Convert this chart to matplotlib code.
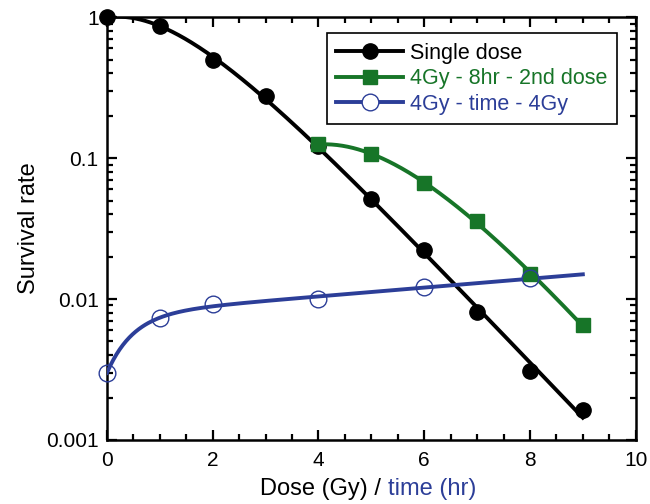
import numpy as np
import matplotlib
matplotlib.use("Agg")
import matplotlib.pyplot as plt
from matplotlib.ticker import FixedLocator, MultipleLocator, FixedFormatter

plt.rcParams['font.family'] = ['Liberation Sans', 'DejaVu Sans']

# data
single_x = [0, 1, 2, 3, 4, 5, 6, 7, 8, 9]
single_y = [1.0, 0.86, 0.50, 0.275, 0.122, 0.051, 0.0223, 0.0081, 0.0031, 0.00163]

split_x = [4, 5, 6, 7, 8, 9]
split_y = [0.125, 0.107, 0.0665, 0.0357, 0.015, 0.0065]

time_x = [0, 1, 2, 4, 6, 8]
time_y = [0.0030, 0.0073, 0.0092, 0.0100, 0.0122, 0.0140]
time_curve_end = 9

labels = ["Single dose", "4Gy - 8hr - 2nd dose", "4Gy - time - 4Gy"]
black = "black"
green = "#177528"
blue = "#2c3e98"


def smooth(x, y, x_end):
    # log-space fit: a + b*d + c*exp(-d/tau)
    x = np.asarray(x, float)
    L = np.log10(y)
    d = x - x[0]
    best = None
    for tau in np.linspace(0.15, 6, 400):
        A = np.column_stack([np.ones_like(d), d, np.exp(-d / tau)])
        coef = np.linalg.lstsq(A, L, rcond=None)[0]
        r = np.sum((A @ coef - L) ** 2)
        if best is None or r < best[0]:
            best = (r, tau, coef)
    _, tau, coef = best
    xs = np.linspace(x[0], x_end, 300)
    ds = xs - x[0]
    return xs, 10 ** (coef[0] + coef[1] * ds + coef[2] * np.exp(-ds / tau))


fig = plt.figure(figsize=(6.5, 5.04), dpi=100)
ax = fig.add_axes([0.1646, 0.127, 0.8134, 0.839])

xs, ys = smooth(single_x, single_y, single_x[-1])
ax.plot(xs, ys, color=black, lw=2.8, zorder=3)
ax.plot(single_x, single_y, 'o', color=black, ms=11, zorder=4, clip_on=False)

xs, ys = smooth(time_x, time_y, time_curve_end)
ax.plot(xs, ys, color=blue, lw=2.8, zorder=3)
ax.plot(time_x, time_y, 'o', mfc='none', mec=blue, mew=1.0, ms=12, zorder=6, clip_on=False)

xs, ys = smooth(split_x, split_y, split_x[-1])
ax.plot(xs, ys, color=green, lw=2.8, zorder=4)
ax.plot(split_x, split_y, 's', color=green, ms=10, zorder=5)

ax.set_yscale('log')
ax.set_xlim(0, 10)
ax.set_ylim(0.001, 1.0)

ax.xaxis.set_major_locator(MultipleLocator(2))
ax.xaxis.set_minor_locator(MultipleLocator(0.5))
ax.yaxis.set_major_locator(FixedLocator([0.001, 0.01, 0.1, 1]))
ax.yaxis.set_major_formatter(FixedFormatter(["0.001", "0.01", "0.1", "1"]))

for s in ax.spines.values():
    s.set_linewidth(1.8)
ax.tick_params(which='both', direction='in', top=True, right=True,
               labelsize=15, width=1.6)
ax.tick_params(axis='x', pad=8)
ax.tick_params(axis='y', pad=6)
ax.tick_params(which='major', length=7)
ax.tick_params(which='minor', length=4)

ax.set_ylabel("Survival rate", fontsize=17, labelpad=4)

t1 = fig.text(0.597, 0.008, "Dose (Gy) / ", fontsize=17, ha='right', va='bottom')
ax.annotate("time (hr)", xy=(1, 0), xycoords=t1, va='bottom', ha='left',
            fontsize=17, color=blue)

handles = [
    plt.Line2D([], [], color=black, lw=2.8, marker='o', ms=11),
    plt.Line2D([], [], color=green, lw=2.8, marker='s', ms=10),
    plt.Line2D([], [], color=blue, lw=2.8, marker='o', mfc='white', mec=blue, mew=1.0, ms=12),
]
leg = ax.legend(handles, labels, loc='upper right', bbox_to_anchor=(0.964, 0.962),
                borderaxespad=0, fontsize=15.5, handlelength=3.1, handletextpad=0.3,
                labelspacing=0.2, borderpad=0.45, fancybox=False, framealpha=1,
                edgecolor='black')
leg.get_frame().set_linewidth(1.2)
for txt, c in zip(leg.get_texts(), [black, green, blue]):
    txt.set_color(c)

fig.savefig("out.png", dpi=100)
